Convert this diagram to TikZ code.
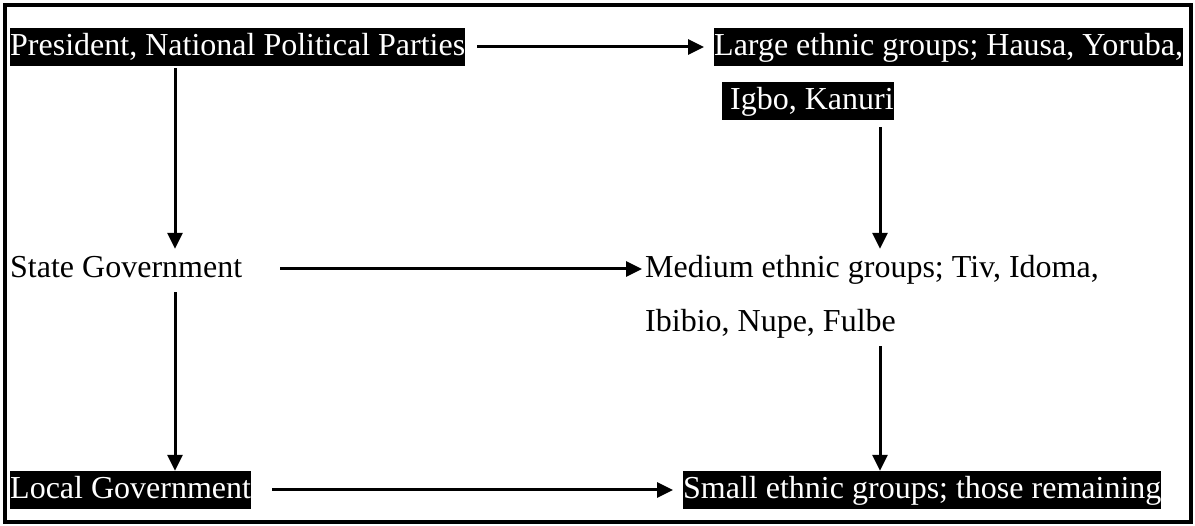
\documentclass[tikz,border=0pt]{standalone}
\usepackage{fontspec}
\setmainfont{Liberation Serif}
\usetikzlibrary{arrows.meta}
\begin{document}
\begin{tikzpicture}[x=1pt,y=-1pt,
  txt/.style={font=\fontsize{32}{38}\selectfont, inner xsep=0pt, inner ysep=0pt,
              text height=28pt, text depth=10pt, anchor=base west},
  hl/.style={txt, fill=black, text=white},
  plain/.style={txt, text=black},
  arr/.style={line width=3pt, -{Triangle[length=16pt,width=15pt]}}]
\useasboundingbox (0,0) rectangle (1195,526);
\draw[line width=3.5pt] (5,5) rectangle (1191,522);

\coordinate (colL) at (175,0);
\coordinate (colR) at (880,0);

\node[hl] (pres) at (10,56) {President, National Political Parties};
\node[hl] (large) at (714,56) {Large ethnic groups; Hausa, Yoruba,};
\node[hl] (igbo) at (722,110) {\ Igbo, Kanuri};
\node[plain] (state) at (10,278) {State Government};
\node[plain] (medium) at (645,278) {Medium ethnic groups; Tiv, Idoma,};
\node[plain] (ibibio) at (645,332) {Ibibio, Nupe, Fulbe};
\node[hl] (local) at (10,499) {Local Government};
\node[hl] (small) at (683,499) {Small ethnic groups; those remaining};

\draw[arr] ([xshift=12pt]pres.east) -- ([xshift=-10pt]large.west);
\draw[arr] ([xshift=38pt]state.east) -- ([xshift=-3pt]medium.west);
\draw[arr] ([xshift=21pt]local.east) -- ([xshift=-10pt]small.west);

\draw[arr] ([yshift=-2pt]pres.south -| colL) -- ([yshift=1pt]state.north -| colL);
\draw[arr] ([yshift=-4pt]state.south -| colL) -- (local.north -| colL);
\draw[arr] ([yshift=-7pt]igbo.south -| colR) -- ([yshift=1pt]medium.north -| colR);
\draw[arr] ([yshift=-4pt]ibibio.south -| colR) -- (small.north -| colR);
\end{tikzpicture}
\end{document}
